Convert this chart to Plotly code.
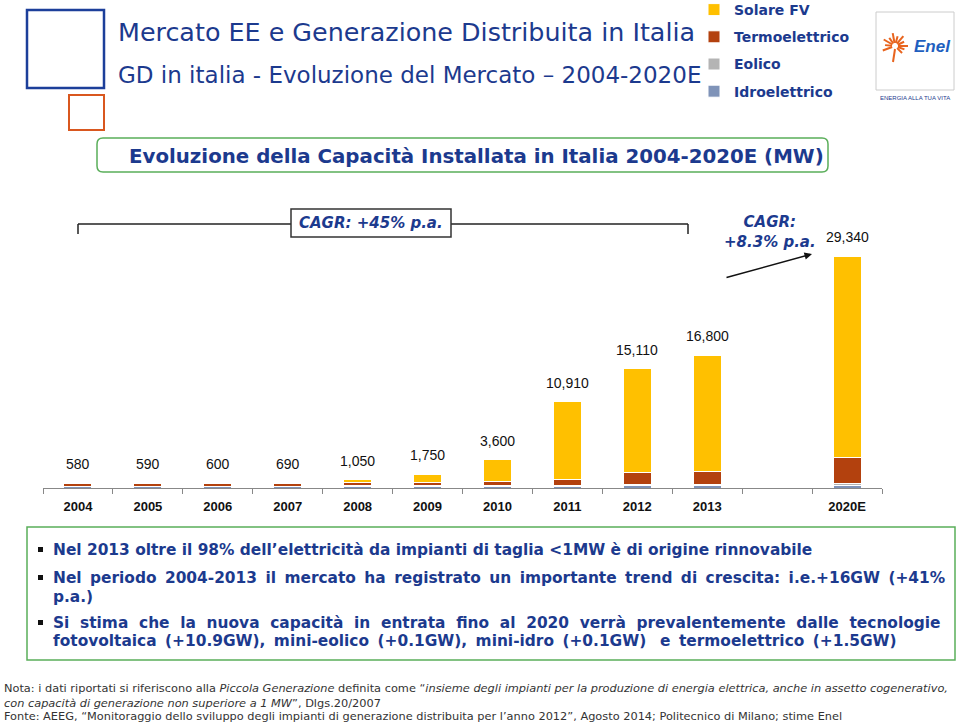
import math
import plotly.graph_objects as go

# ---------------- data ----------------
years = ["2004", "2005", "2006", "2007", "2008", "2009", "2010", "2011", "2012", "2013", " ", "2020E"]
idroelettrico = [200, 200, 200, 200, 220, 230, 240, 250, 260, 270, None, 370]
eolico = [20, 20, 25, 30, 40, 50, 60, 100, 150, 160, None, 260]
termoelettrico = [350, 360, 360, 380, 400, 440, 480, 700, 1500, 1700, None, 3200]
solare_fv = [10, 10, 15, 80, 390, 1030, 2820, 9860, 13200, 14670, None, 25510]
totals = [580, 590, 600, 690, 1050, 1750, 3600, 10910, 15110, 16800, None, 29340]
total_labels = ["580", "590", "600", "690", "1,050", "1,750", "3,600", "10,910", "15,110", "16,800", "", "29,340"]

NAVY = "#1c3a8e"
GREEN = "#5aae5a"

W, H = 960, 722
# plot area in page pixels
PL, PR, PT, PB = 43, 882, 240, 488


def px(x):
    return (x - PL) / (PR - PL)


def py(y):
    return (PB - y) / (PB - PT)


fig = go.Figure()
series = [
    ("Idroelettrico", idroelettrico, "#7f93b8", 4),
    ("Eolico", eolico, "#b4b4b4", 3),
    ("Termoelettrico", termoelettrico, "#b3410e", 2),
    ("Solare FV", solare_fv, "#ffc000", 1),
]
for name, vals, col, rank in series:
    fig.add_trace(go.Bar(
        x=years, y=vals, name=name, legendgroup=name, legendrank=rank,
        marker=dict(color=col, line=dict(color="white", width=1)),
        hoverinfo="name+y",
    ))

annotations = []
for i, (tot, lab) in enumerate(zip(totals, total_labels)):
    if tot is None:
        continue
    annotations.append(dict(
        x=i, y=tot, xref="x", yref="y", text=lab, showarrow=False,
        yanchor="bottom", yshift=9,
        font=dict(family="Liberation Sans, Arial", size=14, color="#111111"),
    ))

shapes = []
# decorative squares top-left
shapes.append(dict(type="rect", xref="paper", yref="paper",
                   x0=px(27), x1=px(104), y0=py(88), y1=py(10),
                   line=dict(color="#1c3f9a", width=2.5), fillcolor="rgba(0,0,0,0)"))
shapes.append(dict(type="rect", xref="paper", yref="paper",
                   x0=px(69), x1=px(104), y0=py(130), y1=py(95),
                   line=dict(color="#d9571f", width=2), fillcolor="rgba(0,0,0,0)"))

# titles
annotations.append(dict(xref="paper", yref="paper", x=px(116), y=py(32), xanchor="left", yanchor="middle",
                        text="Mercato EE e Generazione Distribuita in Italia", showarrow=False,
                        font=dict(family="DejaVu Sans", size=25.4, color=NAVY)))
annotations.append(dict(xref="paper", yref="paper", x=px(116), y=py(75), xanchor="left", yanchor="middle",
                        text="GD in italia - Evoluzione del Mercato \u2013 2004-2020E", showarrow=False,
                        font=dict(family="DejaVu Sans", size=23, color=NAVY)))

# section title box (rounded)
x0, x1, y0, y1, r = px(97), px(828), py(172), py(138), 6
rx = r / (PR - PL)
ry = r / (PB - PT)
path = (f"M {x0+rx},{y1} L {x1-rx},{y1} Q {x1},{y1} {x1},{y1-ry} L {x1},{y0+ry} "
        f"Q {x1},{y0} {x1-rx},{y0} L {x0+rx},{y0} Q {x0},{y0} {x0},{y0+ry} "
        f"L {x0},{y1-ry} Q {x0},{y1} {x0+rx},{y1} Z")
shapes.append(dict(type="path", xref="paper", yref="paper", path=path,
                   line=dict(color=GREEN, width=1.5)))
annotations.append(dict(xref="paper", yref="paper", x=px(476), y=py(156), xanchor="center", yanchor="middle",
                        text="<b>Evoluzione della Capacità Installata in Italia 2004-2020E (MW)</b>",
                        showarrow=False, font=dict(family="DejaVu Sans", size=19.8, color=NAVY)))

# CAGR bracket
shapes.append(dict(type="line", xref="paper", yref="paper", x0=px(78), x1=px(688), y0=py(224), y1=py(224),
                   line=dict(color="#222", width=1.5)))
shapes.append(dict(type="line", xref="paper", yref="paper", x0=px(78), x1=px(78), y0=py(224), y1=py(234),
                   line=dict(color="#222", width=1.5)))
shapes.append(dict(type="line", xref="paper", yref="paper", x0=px(688), x1=px(688), y0=py(224), y1=py(234),
                   line=dict(color="#222", width=1.5)))
shapes.append(dict(type="rect", xref="paper", yref="paper", x0=px(291), x1=px(451), y0=py(237), y1=py(209),
                   fillcolor="white", line=dict(color="#333", width=1.5)))
annotations.append(dict(xref="paper", yref="paper", x=px(371), y=py(223), xanchor="center", yanchor="middle",
                        text="<b><i>CAGR: +45% p.a.</i></b>", showarrow=False,
                        font=dict(family="DejaVu Sans", size=15, color=NAVY)))
annotations.append(dict(xref="paper", yref="paper", x=px(770), y=py(232), xanchor="center", yanchor="middle",
                        text="<b><i>CAGR:<br>+8.3% p.a.</i></b>", showarrow=False,
                        font=dict(family="DejaVu Sans", size=15, color=NAVY)))
annotations.append(dict(xref="paper", yref="paper", x=px(812), y=py(254), ax=-87, ay=24,
                        text="", showarrow=True, arrowhead=2, arrowsize=1, arrowwidth=1.5, arrowcolor="#111"))

# Enel logo
shapes.append(dict(type="rect", xref="paper", yref="paper", x0=px(876), x1=px(954), y0=py(90), y1=py(12),
                   line=dict(color="#cccccc", width=1), fillcolor="white"))
cx, cy = 895, 46
for ang in [0, 25, 50, 75, 100, 125, 150, 175, 200, 340, 315]:
    a = math.radians(ang)
    r0, r1 = 3, (13 if ang % 50 == 0 else 10)
    shapes.append(dict(type="line", xref="paper", yref="paper",
                       x0=px(cx + r0 * math.cos(a)), y0=py(cy - r0 * math.sin(a)),
                       x1=px(cx + r1 * math.cos(a)), y1=py(cy - r1 * math.sin(a)),
                       line=dict(color="#e8641e", width=2)))
shapes.append(dict(type="line", xref="paper", yref="paper", x0=px(895), x1=px(893), y0=py(49), y1=py(62),
                   line=dict(color="#e8641e", width=2)))
annotations.append(dict(xref="paper", yref="paper", x=px(932), y=py(47), xanchor="center", yanchor="middle",
                        text="<b><i>Enel</i></b>", showarrow=False,
                        font=dict(family="Liberation Sans, Arial", size=17, color="#1f5fbf")))
annotations.append(dict(xref="paper", yref="paper", x=px(915), y=py(98), xanchor="center", yanchor="middle",
                        text="ENERGIA ALLA TUA VITA", showarrow=False,
                        font=dict(family="Liberation Sans, Arial", size=6, color="#1c3a8e")))

# bullet box
shapes.append(dict(type="rect", xref="paper", yref="paper", x0=px(27), x1=px(955), y0=py(660), y1=py(527),
                   line=dict(color=GREEN, width=1.5), fillcolor="rgba(0,0,0,0)"))
TS = "\u2009"
NB = "\u00a0"
bullet_lines = [
    (550, True, "Nel 2013 oltre il 98% dell\u2019elettricità da impianti di taglia &lt;1MW è di origine rinnovabile", " "),
    (578, True, "Nel periodo 2004-2013 il mercato ha registrato un importante trend di crescita: i.e.+16GW (+41%", TS + " "),
    (597, False, "p.a.)", " "),
    (623, True, "Si stima che la nuova capacità in entrata fino al 2020 verrà prevalentemente dalle tecnologie", NB + " "),
    (641, False, "fotovoltaica (+10.9GW), mini-eolico (+0.1GW), mini-idro (+0.1GW)" + NB + " e termoelettrico (+1.5GW)", TS + " "),
]
for yy, bullet, txt, sep in bullet_lines:
    if bullet:
        shapes.append(dict(type="rect", xref="paper", yref="paper",
                           x0=px(38), x1=px(43), y0=py(yy + 2), y1=py(yy - 3),
                           fillcolor="#111", line=dict(width=0)))
    annotations.append(dict(xref="paper", yref="paper", x=px(51), y=py(yy), xanchor="left", yanchor="middle",
                            text="<b>" + txt.replace(" ", sep) + "</b>", showarrow=False,
                            font=dict(family="DejaVu Sans", size=15.4, color=NAVY)))

# footnote
foot_lines = [
    (688, "Nota: i dati riportati si riferiscono alla <i>Piccola Generazione</i> definita come \u201c<i>insieme degli impianti per la produzione di energia elettrica, anche in assetto cogenerativo,</i>"),
    (703, "<i>con capacità di generazione non superiore a 1 MW</i>\u201d, Dlgs.20/2007"),
    (716, "Fonte: AEEG, \u201cMonitoraggio dello sviluppo degli impianti di generazione distribuita per l\u2019anno 2012\u201d, Agosto 2014; Politecnico di Milano; stime Enel"),
]
for yy, txt in foot_lines:
    annotations.append(dict(xref="paper", yref="paper", x=px(2), y=py(yy), xanchor="left", yanchor="middle",
                            text=txt, showarrow=False, align="left",
                            font=dict(family="DejaVu Sans", size=11.35, color="#333333")))

fig.update_layout(
    width=W, height=H, autosize=False,
    margin=dict(l=PL, r=W - PR, t=PT, b=H - PB, pad=0, autoexpand=False),
    paper_bgcolor="white", plot_bgcolor="white",
    barmode="stack", bargap=0.6,
    showlegend=True,
    legend=dict(xref="paper", yref="paper",
                x=px(694), y=py(-6), xanchor="left", yanchor="top",
                traceorder="grouped", tracegroupgap=6,
                bgcolor="rgba(0,0,0,0)",
                font=dict(family="DejaVu Sans", size=14, color=NAVY, weight="bold")),
    xaxis=dict(type="category", categoryorder="array", categoryarray=years,
               range=[-0.5, len(years) - 0.5], autorange=False,
               tickson="boundaries", ticks="outside", ticklen=5, tickcolor="#888",
               ticklabelstandoff=6,
               showline=True, linecolor="#888", linewidth=1, showgrid=False,
               tickfont=dict(family="Liberation Sans, Arial", size=13, color="#111", weight="bold"),
               fixedrange=True),
    yaxis=dict(visible=False, range=[0, 31390], fixedrange=True),
    shapes=shapes,
    annotations=annotations,
)

fig.write_html("out.html", config={"displayModeBar": False},
               post_script="document.body.style.margin='0px';document.body.style.overflow='hidden';")
